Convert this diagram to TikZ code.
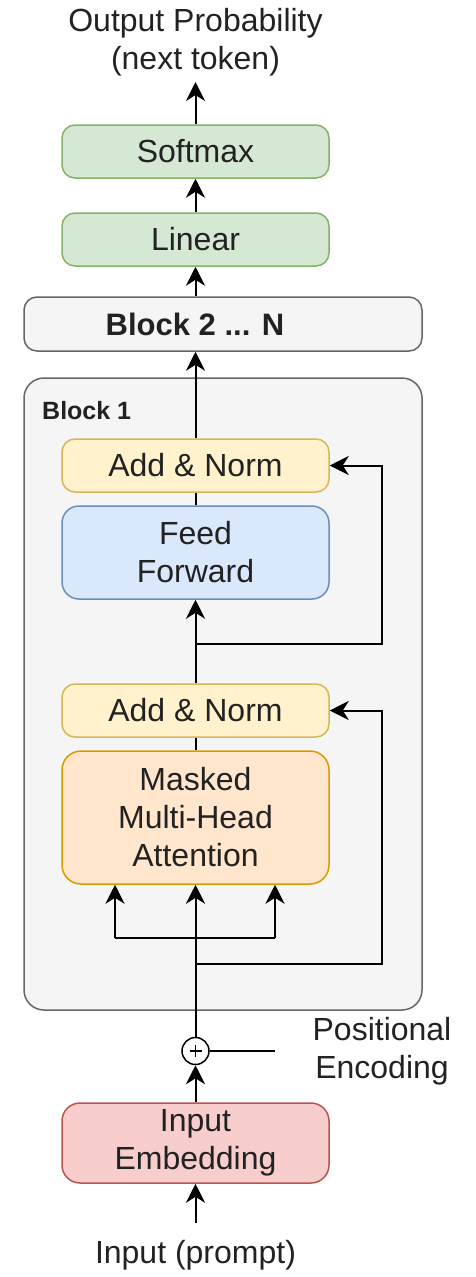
\documentclass[tikz,border=0pt]{standalone}
\usepackage{fontspec}
\setmainfont{Liberation Sans}
\usetikzlibrary{arrows.meta}

\definecolor{txt}{HTML}{222222}
\definecolor{greenF}{HTML}{D5E8D4}\definecolor{greenD}{HTML}{82B366}
\definecolor{grayF}{HTML}{F5F5F5}\definecolor{grayD}{HTML}{666666}
\definecolor{yelF}{HTML}{FFF2CC}\definecolor{yelD}{HTML}{D6B656}
\definecolor{bluF}{HTML}{DAE8FC}\definecolor{bluD}{HTML}{6C8EBF}
\definecolor{oraF}{HTML}{FFE6CC}\definecolor{oraD}{HTML}{D79B00}
\definecolor{redF}{HTML}{F8CECC}\definecolor{redD}{HTML}{B85450}

\tikzset{
  lbl/.style={text=txt, font=\fontsize{32}{38}\selectfont, align=center, inner sep=0pt},
  box/.style={lbl, rounded corners=13pt, line width=1.5pt, minimum width=267pt, minimum height=53pt},
  greenbox/.style={box, fill=greenF, draw=greenD},
  yellowbox/.style={box, fill=yelF, draw=yelD},
  bluebox/.style={box, fill=bluF, draw=bluD, rounded corners=17pt},
  orangebox/.style={box, fill=oraF, draw=oraD, rounded corners=19pt},
  redbox/.style={box, fill=redF, draw=redD, rounded corners=18pt},
  graybox/.style={box, fill=grayF, draw=grayD, minimum width=398pt},
  link/.style={line width=2pt, draw=black},
  arr/.style={link, -{Stealth[length=19pt, width=19pt, inset=6pt]}},
}

\begin{document}
\begin{tikzpicture}[x=1pt, y=-1pt]
\useasboundingbox (0,0) rectangle (475,1277);

% outer container of the first block
\node[graybox, rounded corners=20pt, minimum height=632pt] (blk1) at (223,694) {};
\node[lbl, anchor=west, font=\bfseries\fontsize{25}{30}\selectfont] (blk1lbl) at (42,411) {Block 1};

% stacked layers
\node[greenbox] (soft) at (195.5,151.5) {Softmax};
\node[greenbox] (lin) at (195.5,239.5) {Linear};
\node[graybox, minimum height=54pt, font=\bfseries\fontsize{31}{37.5}\selectfont] (blkN) at (223,324) {\hspace*{-56pt}Block 2 ... N};
\node[yellowbox] (an1) at (195.5,465.5) {Add \& Norm};
\node[bluebox, minimum height=93pt] (ff) at (195.5,552.5) {Feed\\Forward};
\node[yellowbox] (an2) at (195.5,710.5) {Add \& Norm};
\node[orangebox, minimum height=133pt] (mha) at (195.5,817.5) {Masked\\Multi-Head\\Attention};
\node[redbox, minimum height=80pt] (emb) at (195.5,1143) {Input\\Embedding};

% positional encoding sum
\node[circle, draw=black, line width=1.5pt, minimum size=27pt, inner sep=0pt] (sum) at (195.5,1051) {};
\draw[line width=1.2pt] ([xshift=-6pt]sum.center) -- ([xshift=6pt]sum.center)
  ([yshift=-6pt]sum.center) -- ([yshift=6pt]sum.center);
\coordinate (peEnd) at (275,1051);
\node[lbl] (pe) at (382,1051) {Positional\\Encoding};

% free texts
\node[lbl] (out) at (195.5,42) {Output Probability\\(next token)};
\node[lbl] (inp) at (195.5,1255) {Input (prompt)};
\coordinate (outTip) at (195.5,82);
\coordinate (inTail) at (195.5,1223);

% main flow
\draw[arr] (soft.north) -- (outTip);
\draw[arr] (lin.north) -- (soft.south);
\draw[arr] (blkN.north -| lin.south) -- (lin.south);
\draw[arr] (an1.north) -- (an1.north |- blkN.south);
\draw[link] (ff.north) -- (an1.south);
\draw[arr] (an2.north) -- (ff.south);
\draw[link] (mha.north) -- (an2.south);
\draw[arr] (sum.north) -- (mha.south);
\draw[arr] (emb.north) -- (sum.south);
\draw[arr] (inTail) -- (emb.south);
\draw[link, line width=1.5pt] (sum.east) -- (peEnd);

% query / key / value split
\coordinate (qkv) at (195.5,938);
\coordinate (qL) at (115,938);
\coordinate (qR) at (275,938);
\draw[link] (qL) -- (qR);
\draw[arr] (qL) -- (qL |- mha.south);
\draw[arr] (qR) -- (qR |- mha.south);

% residual connections
\coordinate (res1) at (195.5,644);
\coordinate (res1c) at (382,644);
\draw[arr] (res1) -- (res1c) |- (an1.east);
\coordinate (res2) at (195.5,964);
\coordinate (res2c) at (382,964);
\draw[arr] (res2) -- (res2c) |- (an2.east);
\end{tikzpicture}
\end{document}
